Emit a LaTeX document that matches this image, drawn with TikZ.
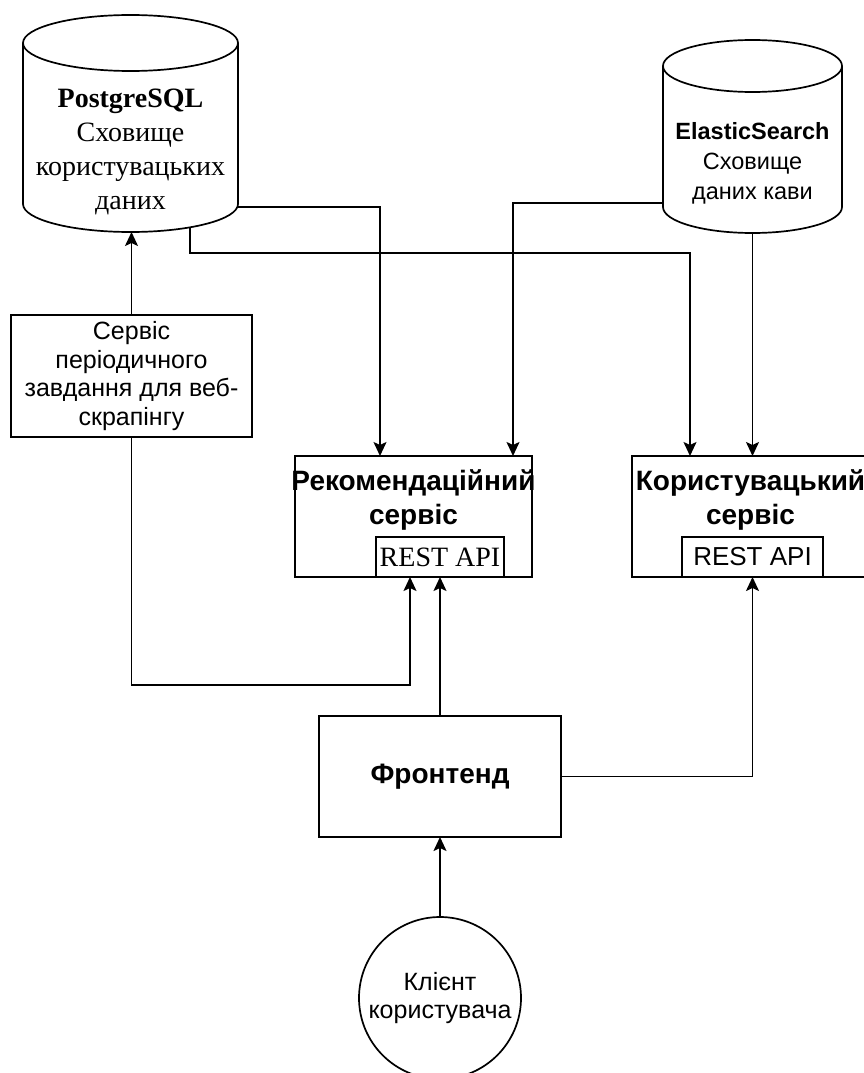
\documentclass[tikz,border=0pt]{standalone}
\usepackage{fontspec}
\setmainfont{Liberation Sans}
\newfontfamily\serifrm{Liberation Serif}
\usetikzlibrary{arrows.meta}

\begin{document}
\begin{tikzpicture}[
        x=1pt, y=1pt,
        line width=1.7pt,
        db/.style={rectangle, inner sep=0pt, outer sep=0pt},
        block/.style={rectangle, draw, fill=white, inner sep=0pt, outer sep=0pt, minimum width=237, minimum height=121},
        api/.style={rectangle, draw, fill=white, inner sep=0pt, outer sep=0pt, minimum height=40},
        txt/.style={align=center, font=\fontsize{25}{28.8}\selectfont},
        title/.style={align=center, font=\bfseries\fontsize{28}{34}\selectfont},
        line/.style={draw, -{Stealth[length=14pt, width=13pt, inset=3pt]}}
    ]
    \useasboundingbox (0,0) rectangle (864,-1073);

    % сховища даних
    \node[db, minimum width=215, minimum height=217] (pg) at (130.5,-123.5) {};
    \draw ([yshift=-28]pg.north west) -- ([yshift=28]pg.south west)
        arc[start angle=180, end angle=360, x radius=107.5, y radius=28]
        -- ([yshift=-28]pg.north east);
    \draw ([yshift=-28]pg.north) ellipse [x radius=107.5, y radius=28];
    \node[align=center, font=\serifrm\fontsize{28}{34}\selectfont] (pg_text) at (130.5,-152) {\textbf{PostgreSQL}\\Сховище\\користувацьких\\даних};

    \node[db, minimum width=179, minimum height=193] (es) at (752.5,-136.5) {};
    \draw ([yshift=-26]es.north west) -- ([yshift=26]es.south west)
        arc[start angle=180, end angle=360, x radius=89.5, y radius=26]
        -- ([yshift=-26]es.north east);
    \draw ([yshift=-26]es.north) ellipse [x radius=89.5, y radius=26];
    \node[align=center, font=\fontsize{23.5}{30}\selectfont] (es_text) at (752.5,-163) {\textbf{ElasticSearch}\\Сховище\\даних кави};

    % сервіси
    \node[block, minimum width=241, minimum height=122, txt] (scraper) at (131.5,-376) {Сервіс\\періодичного\\завдання для веб-\\скрапінгу};
    \node[block] (rec) at (413.5,-516.5) {};
    \node[title] (rec_title) at (413.5,-500) {Рекомендаційний\\сервіс};
    \node[api, minimum width=128, font=\serifrm\fontsize{28}{34}\selectfont] (rec_api) at (440,-557) {REST API};
    \node[block] (usr) at (750.5,-516.5) {};
    \node[title] (usr_title) at (750.5,-500) {Користувацький\\сервіс};
    \node[api, minimum width=141, font=\fontsize{26}{30}\selectfont] (usr_api) at (752.5,-557) {REST API};

    % клієнтська частина
    \node[block, minimum width=242, title] (front) at (440,-776.5) {Фронтенд};
    \node[circle, draw, minimum size=162, inner sep=0pt, outer sep=0pt, txt] (client) at (440,-998) {Клієнт\\користувача};

    % зв'язки
    \path [line] (scraper.north) -- (scraper.north |- pg.south);
    \path [line] (scraper.south) -- ++(0,-248) -| ([xshift=-30]rec_api.south);
    \path [line] (front.north) -- (rec_api.south);
    \path [line] (front.east) -| (usr_api.south);
    \path [line] (client.north) -- (front.south);
    \path [line] ([yshift=25]pg.south east) -| ([xshift=-33.5]rec.north);
    \path [line] ([xshift=59.5, yshift=5]pg.south) -- ++(0,-26) -| ([xshift=-60.5]usr.north);
    \path [line] ([yshift=30]es.south west) -| ([xshift=99.5]rec.north);
    \path [line] (es.south) -- (es.south |- usr.north);

\end{tikzpicture}
\end{document}
